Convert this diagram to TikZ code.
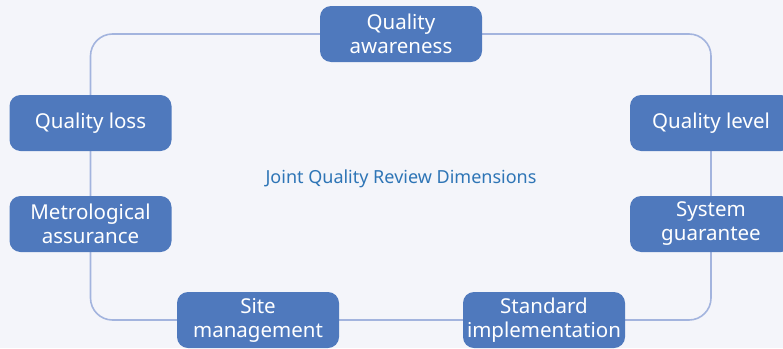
\documentclass[tikz,border=0pt]{standalone}
\usepackage{fontspec}
\setmainfont{Noto Sans}
\definecolor{bg}{HTML}{F4F5FA}
\definecolor{boxc}{HTML}{4F79BD}
\definecolor{linec}{HTML}{A3B4DE}
\definecolor{titlec}{HTML}{2E75B6}
\tikzset{
  dimbox/.style={fill=boxc, rounded corners=11pt, minimum width=162pt, minimum height=56pt,
    inner sep=0pt, text=white, align=center, font=\fontsize{20.5}{24}\selectfont},
  loopline/.style={draw=linec, line width=1.6pt, rounded corners=22pt}
}
\begin{document}
\begin{tikzpicture}[x=1pt,y=-1pt]
\useasboundingbox (0,0) rectangle (783,348);
\clip (0,0) rectangle (783,348);
\fill[bg] (0,0) rectangle (783,348);
\coordinate (qa) at (401,34);
\coordinate (ql) at (90.5,123);
\coordinate (ma) at (90.5,224);
\coordinate (qv) at (711,123);
\coordinate (sg) at (711,224);
\coordinate (sm) at (258,320);
\coordinate (si) at (544,320);
\draw[loopline] (qa) -| (ql) -- (ma) |- (sm) -- (si) -| (sg) -- (qv) |- (qa);
\node[dimbox] (nqa) at (qa) {Quality\\awareness};
\node[dimbox] (nql) at (ql) {Quality loss};
\node[dimbox] (nma) at (ma) {Metrological\\assurance};
\node[dimbox] (nqv) at (qv) {Quality level};
\node[dimbox] (nsg) at (sg) {System\\guarantee};
\node[dimbox] (nsm) at (sm) {Site\\management};
\node[dimbox] (nsi) at (si) {Standard\\implementation};
\node[text=titlec, font=\fontsize{18}{21}\selectfont] (title) at (401,179) {Joint Quality Review Dimensions};
\end{tikzpicture}
\end{document}
